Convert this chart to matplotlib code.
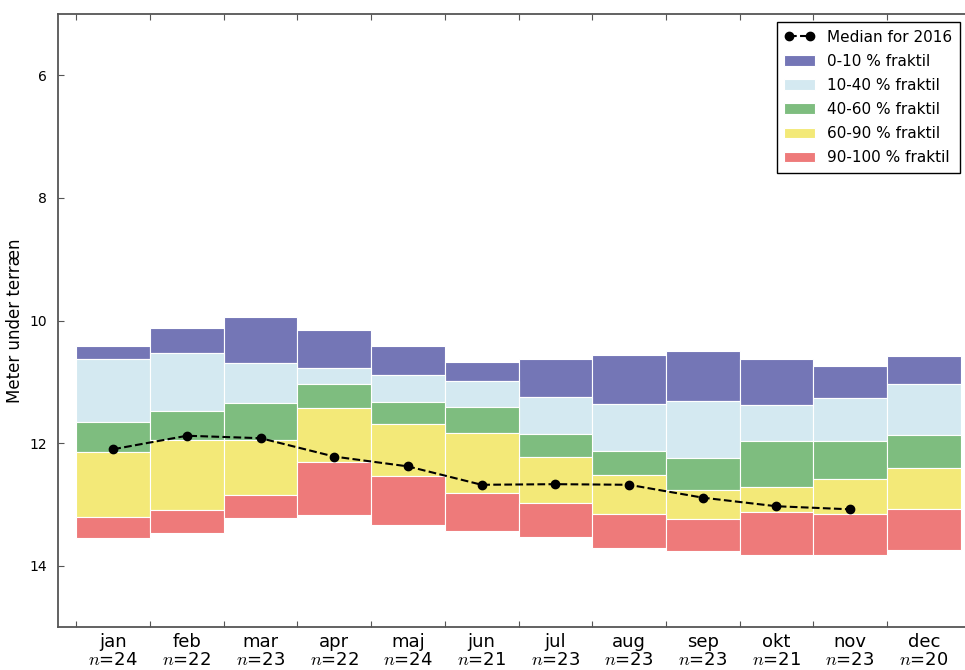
import matplotlib
matplotlib.use("Agg")
import matplotlib.pyplot as plt
import numpy as np

plt.rcParams['font.family'] = ['DejaVu Sans']
plt.rcParams['mathtext.fontset'] = 'cm'

months = ['jan', 'feb', 'mar', 'apr', 'maj', 'jun', 'jul', 'aug', 'sep', 'okt', 'nov', 'dec']
counts = [24, 22, 23, 22, 24, 21, 23, 23, 23, 21, 23, 20]

# fractile boundaries (meter under terræn), top to bottom
q0 = [10.42, 10.12, 9.95, 10.16, 10.42, 10.68, 10.62, 10.56, 10.49, 10.63, 10.75, 10.58]
q10 = [10.63, 10.53, 10.69, 10.78, 10.89, 10.99, 11.24, 11.36, 11.32, 11.38, 11.27, 11.04]
q40 = [11.65, 11.47, 11.35, 11.03, 11.33, 11.41, 11.85, 12.13, 12.24, 11.96, 11.96, 11.86]
q60 = [12.15, 11.95, 11.95, 11.43, 11.69, 11.84, 12.23, 12.52, 12.76, 12.71, 12.58, 12.40]
q90 = [13.20, 13.09, 12.84, 12.31, 12.53, 12.81, 12.98, 13.15, 13.24, 13.13, 13.15, 13.08]
q100 = [13.54, 13.46, 13.22, 13.17, 13.34, 13.44, 13.53, 13.71, 13.76, 13.83, 13.82, 13.75]

# median 2016 (no value for dec)
median_2016 = [12.10, 11.88, 11.92, 12.22, 12.38, 12.68, 12.67, 12.68, 12.89, 13.03, 13.08]

bands = [(q0, q10, '#7476b6', '0-10 % fraktil'),
         (q10, q40, '#d4e9f1', '10-40 % fraktil'),
         (q40, q60, '#7ebd7f', '40-60 % fraktil'),
         (q60, q90, '#f3e978', '60-90 % fraktil'),
         (q90, q100, '#ee7a7a', '90-100 % fraktil')]

fig = plt.figure(figsize=(9.65, 6.7), dpi=100)
ax = fig.add_axes([58 / 965, 43 / 670, 921 / 965, 613 / 670])

x = np.arange(len(months))
handles = []
for top, bot, color, label in bands:
    top = np.array(top)
    bot = np.array(bot)
    h = ax.bar(x, bot - top, bottom=top, width=1.0, color=color,
               edgecolor='white', linewidth=0.8, label=label)
    handles.append(h)

line, = ax.plot(x[:len(median_2016)], median_2016, 'k--', marker='o',
                markersize=6, linewidth=1.5, label='Median for 2016')

ax.set_xlim(-0.75, 11.75)
ax.set_ylim(15, 5)
ax.set_yticks([6, 8, 10, 12, 14])
ax.set_ylabel('Meter under terræn', fontsize=12)

ax.set_xticks(x - 0.5)
ax.set_xticklabels([])
ax.set_xticks(x, minor=True)
ax.set_xticklabels(['%s\n$n$=%d' % (m, n) for m, n in zip(months, counts)],
                   minor=True, fontsize=13, linespacing=1.0)
ax.tick_params(axis='x', which='minor', length=0, pad=4)
ax.tick_params(axis='x', which='major', direction='in', length=4, top=True, color='#555555')
ax.tick_params(axis='y', direction='in', length=4, labelsize=10, color='#555555', pad=8)

for s in ax.spines.values():
    s.set_color('#555555')
    s.set_linewidth(1.3)

leg = ax.legend([line] + handles, [line.get_label()] + [b[3] for b in bands],
                loc='upper right', bbox_to_anchor=(960 / 965, 648 / 670),
                bbox_transform=fig.transFigure, borderaxespad=0, fancybox=False,
                fontsize=11, handlelength=2.0, labelspacing=0.6, numpoints=2,
                framealpha=1, borderpad=0.5)
leg.get_frame().set_edgecolor('black')
leg.get_frame().set_linewidth(1.0)

fig.savefig('out.png', dpi=100)
